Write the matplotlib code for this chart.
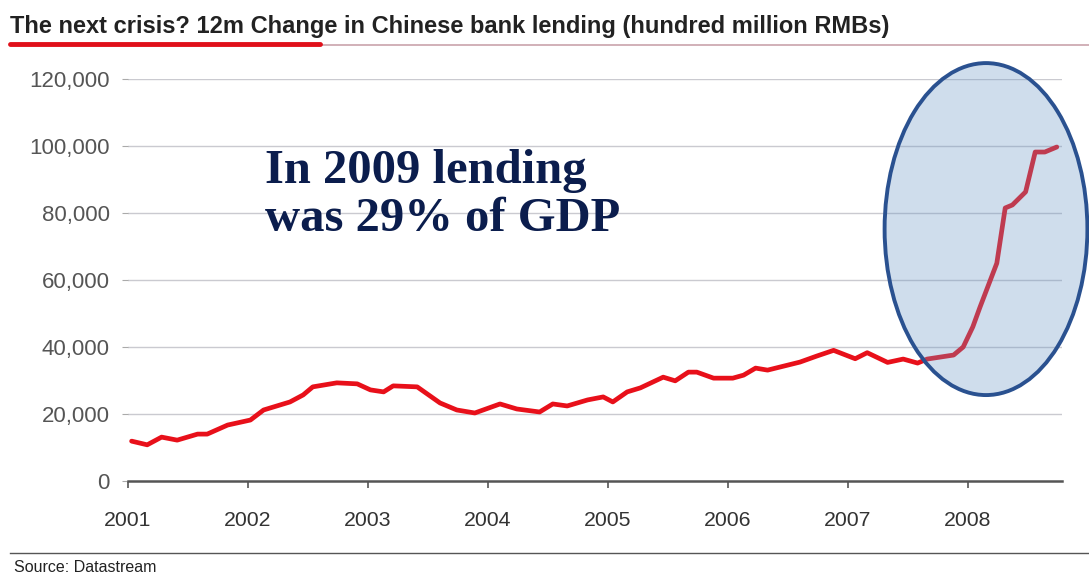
import matplotlib
matplotlib.use("Agg")
import matplotlib.pyplot as plt
from matplotlib.patches import Ellipse
from matplotlib.lines import Line2D

# decimal year and 12m change in lending (hundred million RMB)
years = [2001.03, 2001.16, 2001.28, 2001.41, 2001.58, 2001.66, 2001.83, 2002.02,
         2002.13, 2002.35, 2002.46, 2002.54, 2002.74, 2002.91, 2003.02, 2003.13,
         2003.21, 2003.41, 2003.60, 2003.74, 2003.89, 2004.10, 2004.24, 2004.43,
         2004.54, 2004.66, 2004.83, 2004.96, 2005.04, 2005.16, 2005.27, 2005.46,
         2005.56, 2005.67, 2005.74, 2005.88, 2006.04, 2006.13, 2006.23, 2006.33,
         2006.60, 2006.74, 2006.88, 2007.06, 2007.16, 2007.33, 2007.46, 2007.58,
         2007.66, 2007.88, 2007.96, 2008.04, 2008.10, 2008.24, 2008.31, 2008.37,
         2008.48, 2008.56, 2008.64, 2008.74]
lending = [11900, 10800, 13100, 12200, 14000, 14000, 16700, 18200,
           21200, 23600, 25700, 28100, 29300, 29000, 27200, 26600,
           28400, 28100, 23300, 21200, 20300, 23000, 21500, 20600,
           23000, 22400, 24200, 25100, 23600, 26600, 27800, 31000,
           29900, 32500, 32500, 30700, 30700, 31600, 33700, 33100,
           35500, 37300, 39000, 36500, 38300, 35400, 36400, 35200,
           36400, 37600, 40000, 46000, 51900, 65000, 81500, 82400,
           86300, 98200, 98200, 99700]

year_ticks = [2001, 2002, 2003, 2004, 2005, 2006, 2007, 2008]
y_ticks = [0, 20000, 40000, 60000, 80000, 100000, 120000]

W, H = 1089, 575
fig = plt.figure(figsize=(W / 100, H / 100), dpi=100)
fig.patch.set_facecolor("white")

# axes placed in pixel terms: left 128, right 1062, top 79, bottom 481
ax = fig.add_axes([128 / W, 1 - 481 / H, (1062 - 128) / W, (481 - 79) / H])
ax.set_xlim(2001, 2001 + (1062 - 128) / 120)
ax.set_ylim(0, 120000)

for v in y_ticks[1:]:
    ax.axhline(v, color="#cacad0", lw=1.0, zorder=1)

ax.plot(years, lending, color="#e8101a", lw=3.4, solid_capstyle="round", zorder=3)

ell = Ellipse((2008.15, 75200), 1.69, 99100, facecolor="#6a96c4", alpha=0.32,
              edgecolor="none", zorder=4, clip_on=False)
ax.add_patch(ell)
ell_edge = Ellipse((2008.15, 75200), 1.69, 99100, facecolor="none",
                   edgecolor="#2a5190", lw=2.8, zorder=5, clip_on=False)
ax.add_patch(ell_edge)

for s in ["top", "right", "left"]:
    ax.spines[s].set_visible(False)
ax.spines["bottom"].set_color("#555555")
ax.spines["bottom"].set_linewidth(1.8)

ax.set_xticks(year_ticks)
ax.set_xticklabels([str(y) for y in year_ticks])
ax.set_yticks(y_ticks)
ax.set_yticklabels([f"{v:,}" for v in y_ticks])
ax.tick_params(axis="x", direction="out", length=5, width=1.2, color="#555555",
               labelsize=15.3, labelcolor="#333333", pad=16.5)
ax.tick_params(axis="y", direction="out", length=4, width=0.8, color="#aaaaaa",
               labelsize=16, labelcolor="#555555", pad=9)
for lab in ax.get_xticklabels() + ax.get_yticklabels():
    lab.set_family("Liberation Sans")

ax.text(0.147, 0.825, "In 2009 lending\nwas 29% of GDP", transform=ax.transAxes,
        ha="left", va="top", fontsize=35, fontweight="bold",
        family="Liberation Serif", color="#0b1d4d", linespacing=1.12, zorder=6)

# title and rules
fig.text(10 / W, 1 - 27 / H, "The next crisis? 12m Change in Chinese bank lending (hundred million RMBs)",
         ha="left", va="center", fontsize=17, fontweight="bold",
         family="Liberation Sans", color="#222222")
fig.add_artist(Line2D([320 / W, 1.0], [1 - 45 / H, 1 - 45 / H], color="#c9a3ab", lw=1.2))
fig.add_artist(Line2D([10 / W, 320 / W], [1 - 44 / H, 1 - 44 / H], color="#e0101a", lw=3.5,
                      solid_capstyle="round"))
fig.add_artist(Line2D([10 / W, 1.0], [1 - 553 / H, 1 - 553 / H], color="#555555", lw=1.0))
fig.text(14 / W, 1 - 567 / H, "Source: Datastream", ha="left", va="center",
         fontsize=11.5, family="Liberation Sans", color="#222222")

fig.savefig("out.png", dpi=100, facecolor="white")
